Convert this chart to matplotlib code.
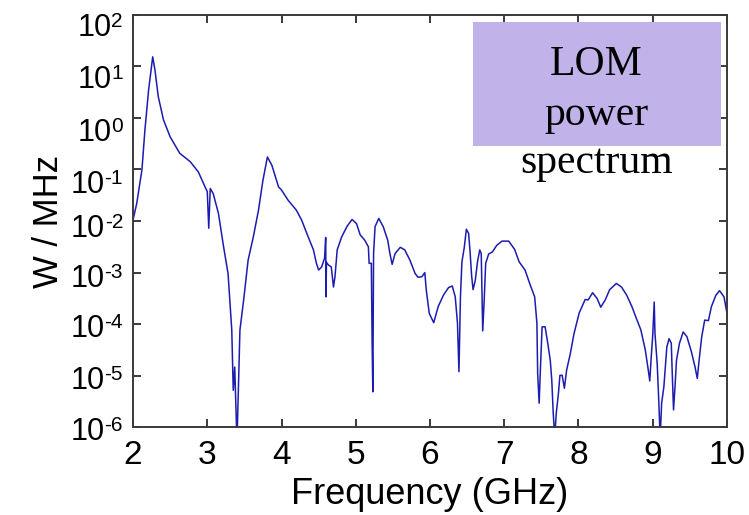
import numpy as np
import matplotlib
matplotlib.use("Agg")
import matplotlib.pyplot as plt
from matplotlib.patches import Rectangle
from matplotlib.transforms import IdentityTransform

plt.rcParams['font.family'] = ['Liberation Sans', 'DejaVu Sans']
plt.rcParams['axes.unicode_minus'] = False

# LOM power spectrum (frequency in GHz, log10 of W/MHz)
freq = [2.00, 2.05, 2.12, 2.16, 2.21, 2.265, 2.296, 2.34, 2.41, 2.50, 2.63, 2.77, 2.88, 2.97,
        3.00, 3.02, 3.04, 3.08, 3.15, 3.22, 3.28, 3.33, 3.35, 3.37, 3.40, 3.42, 3.44, 3.49,
        3.55, 3.62, 3.69, 3.75, 3.81, 3.87, 3.96, 4.00, 4.09, 4.20, 4.27, 4.36, 4.43, 4.47,
        4.50, 4.54, 4.58, 4.595, 4.60, 4.605, 4.63, 4.67, 4.70, 4.72, 4.75, 4.81, 4.88, 4.95,
        5.01, 5.06, 5.12, 5.17, 5.18, 5.21, 5.22, 5.23, 5.24, 5.26, 5.31, 5.37, 5.43, 5.46,
        5.49, 5.53, 5.60, 5.66, 5.73, 5.80, 5.84, 5.89, 5.93, 5.95, 5.99, 6.05, 6.11, 6.18,
        6.25, 6.30, 6.34, 6.37, 6.39, 6.41, 6.43, 6.46, 6.49, 6.52, 6.54, 6.56, 6.58, 6.61,
        6.64, 6.67, 6.69, 6.70, 6.71, 6.73, 6.75, 6.79, 6.84, 6.90, 6.97, 7.06, 7.14, 7.20,
        7.28, 7.35, 7.41, 7.44, 7.45, 7.47, 7.49, 7.51, 7.55, 7.58, 7.62, 7.64, 7.66, 7.68,
        7.70, 7.73, 7.75, 7.78, 7.81, 7.84, 7.89, 7.94, 8.01, 8.09, 8.13, 8.19, 8.25, 8.30,
        8.36, 8.42, 8.51, 8.58, 8.65, 8.72, 8.78, 8.84, 8.90, 8.94, 8.96, 8.98, 9.00, 9.02,
        9.03, 9.06, 9.08, 9.10, 9.12, 9.15, 9.17, 9.19, 9.22, 9.25, 9.26, 9.28, 9.30, 9.32,
        9.36, 9.41, 9.46, 9.52, 9.57, 9.60, 9.62, 9.66, 9.70, 9.75, 9.79, 9.85, 9.90, 9.96,
        10.0]
log_power = [-1.98, -1.66, -1.01, -0.24, 0.54, 1.18, 0.92, 0.41, -0.04, -0.37, -0.69, -0.85, -1.05, -1.34,
             -1.43, -2.14, -1.37, -1.47, -1.85, -2.50, -3.02, -4.11, -5.28, -4.83, -6.30, -5.21, -4.11, -3.53,
             -2.76, -2.31, -1.79, -1.21, -0.76, -0.92, -1.34, -1.40, -1.60, -1.79, -1.98, -2.31, -2.56, -2.82,
             -2.95, -2.89, -2.72, -2.32, -3.47, -2.80, -2.85, -2.89, -3.28, -3.08, -2.56, -2.31, -2.11, -1.97,
             -2.05, -2.27, -2.37, -2.50, -2.82, -2.82, -4.31, -5.31, -2.63, -2.11, -1.95, -2.11, -2.37, -2.63,
             -2.84, -2.63, -2.51, -2.56, -2.76, -3.02, -3.09, -3.08, -3.00, -3.34, -3.79, -3.97, -3.66, -3.44,
             -3.29, -3.26, -3.47, -3.98, -4.92, -3.47, -2.79, -2.53, -2.16, -2.24, -2.60, -3.05, -3.33, -3.15,
             -2.79, -2.56, -2.63, -3.40, -4.13, -3.53, -2.82, -2.64, -2.60, -2.47, -2.39, -2.39, -2.55, -2.79,
             -2.95, -3.24, -3.47, -3.98, -4.95, -5.53, -4.76, -4.05, -4.05, -4.31, -4.70, -5.08, -5.73, -6.20,
             -5.73, -5.34, -4.99, -4.99, -5.24, -4.89, -4.57, -4.18, -3.78, -3.52, -3.53, -3.39, -3.50, -3.67,
             -3.53, -3.33, -3.21, -3.28, -3.44, -3.66, -3.89, -4.11, -4.50, -4.89, -5.10, -4.63, -4.21, -3.57,
             -4.18, -4.76, -5.44, -6.20, -5.53, -5.21, -4.83, -4.44, -4.28, -4.37, -4.83, -5.66, -5.21, -4.70,
             -4.37, -4.15, -4.24, -4.53, -4.83, -5.05, -4.76, -4.24, -3.92, -3.93, -3.66, -3.44, -3.35, -3.47,
             -3.79]

x_ticks = [2, 3, 4, 5, 6, 7, 8, 9, 10]
y_exponents = [2, 1, 0, -1, -2, -3, -4, -5, -6]
# the y labels in the original sit a little below their ticks (pixels)
y_label_shift = [10, 11, 12, 13, 5, 3, 2, 2, 2]

power = 10 ** np.array(log_power)

fig = plt.figure(figsize=(7.49, 5.15), dpi=100)
ax = fig.add_axes([0.1776, 0.170, 0.7930, 0.8018])

ax.plot(freq, power, color='#1c1cb0', lw=1.1)
ax.set_yscale('log')
ax.set_xlim(2, 10)
ax.set_ylim(1e-6, 1e2)
ax.set_xticks(x_ticks)
ax.set_xticklabels([str(t) for t in x_ticks])
ax.set_yticks([10.0 ** e for e in y_exponents])
ax.set_yticklabels([])
ax.minorticks_off()

for s in ax.spines.values():
    s.set_color('#3a3a3a')
    s.set_linewidth(1.4)
ax.tick_params(direction='in', length=6, width=1.4, color='#3a3a3a',
               top=True, right=True, labelsize=24, pad=9)

ax.set_xlabel("Frequency (GHz)", fontsize=26, labelpad=4)
ax.set_ylabel("W / MHz", fontsize=25, labelpad=40)

# y tick labels: "10" with a large exponent, right aligned next to the axis
r = fig.canvas.get_renderer()
x_right = 123
for e, dy in zip(y_exponents, y_label_shift):
    y_tick = ax.transData.transform((2, 10.0 ** e))[1]
    base = y_tick - dy - 11
    sup = fig.text(x_right, base + 9, str(e), fontsize=15, ha='right', va='baseline',
                   transform=IdentityTransform())
    w = sup.get_window_extent(r).width
    fig.text(x_right - w, base, "10", fontsize=22, ha='right', va='baseline',
             transform=IdentityTransform())

# purple annotation box
fig.patches.append(Rectangle((0.6315, 0.7165), 0.3311, 0.2408, transform=fig.transFigure,
                             facecolor='#c1b3ea', edgecolor='none', zorder=5))
for txt, yb in [("LOM", 75), ("power", 125), ("spectrum", 173)]:
    fig.text(596.5 / 749, 1 - yb / 515, txt, family='Liberation Serif', fontsize=30,
             ha='center', va='baseline', zorder=6)

fig.savefig("out.png", dpi=100)
